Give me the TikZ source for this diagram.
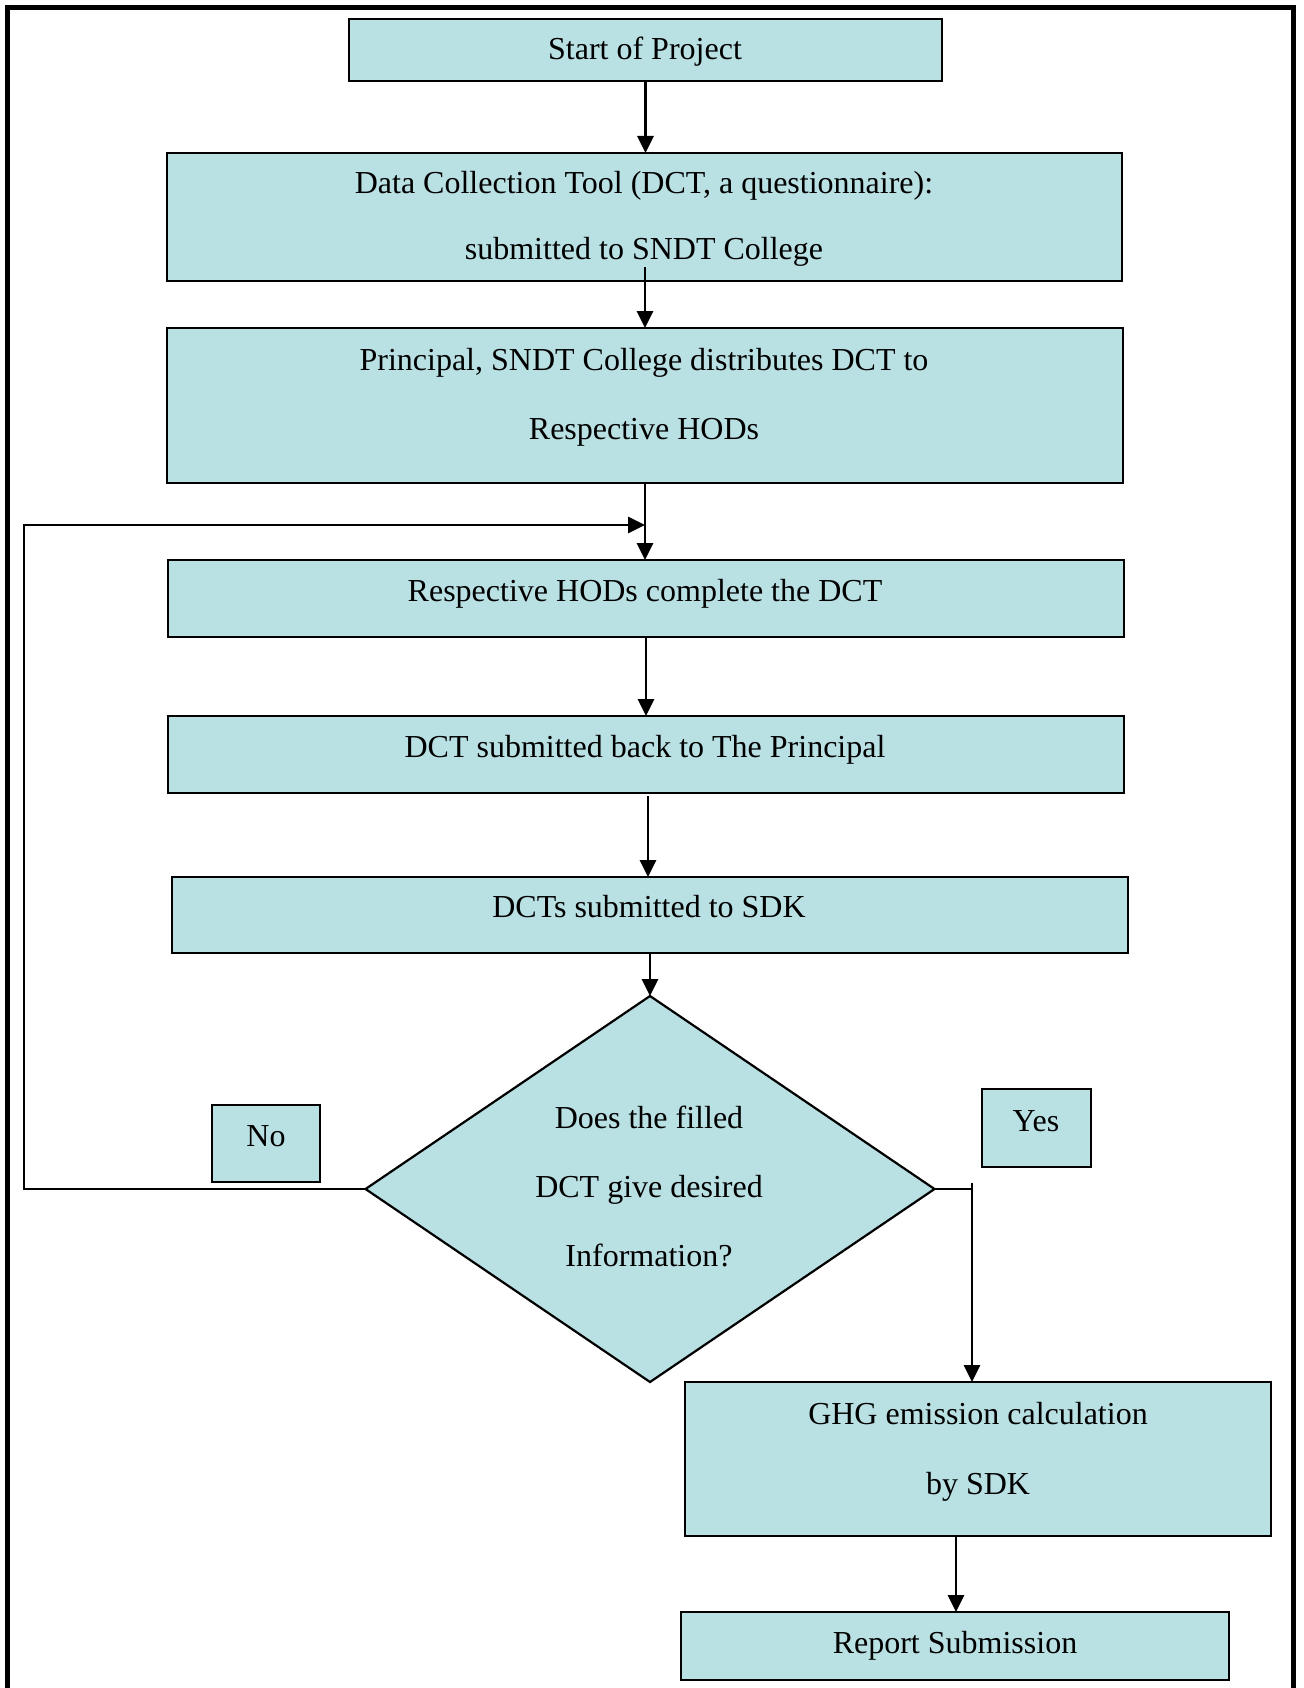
\documentclass[tikz,border=0pt]{standalone}
\usepackage{fontspec}
\setmainfont{Liberation Serif}
\usetikzlibrary{arrows.meta,shapes.geometric}
\definecolor{boxfill}{RGB}{185,224,227}
\begin{document}
\begin{tikzpicture}[x=1pt,y=-1pt,
  box/.style={draw, fill=boxfill, line width=2.2pt, inner sep=0pt, outer sep=0pt, anchor=north west},
  txt/.style={anchor=base, inner sep=0pt, font=\fontsize{32}{38}\selectfont},
  conn/.style={line width=2.8pt},
  arr/.style={conn, -{Triangle[length=17pt,width=16pt]}},
]
\useasboundingbox (0,0) rectangle (1303,1688);
\fill[white] (0,0) rectangle (1303,1688);
% outer frame
\draw[line width=5.5pt, line join=miter] (7.5,1700) -- (7.5,7.5) -- (1293.5,7.5) -- (1293.5,1700);

% boxes
\node[box, minimum width=593pt, minimum height=62pt]  (start) at (349,19) {};
\node[box, minimum width=955pt, minimum height=128pt] (dct)   at (167,153) {};
\node[box, minimum width=956pt, minimum height=155pt] (prin)  at (167,328) {};
\node[box, minimum width=956pt, minimum height=77pt]  (hods)  at (168,560) {};
\node[box, minimum width=956pt, minimum height=77pt]  (back)  at (168,716) {};
\node[box, minimum width=956pt, minimum height=76pt]  (sdk)   at (172,877) {};
\node[draw, fill=boxfill, line width=2.2pt, shape=diamond, inner sep=0pt, outer sep=0pt,
      minimum width=569pt, minimum height=386pt] (dia) at (650,1189) {};
\node[box, minimum width=108pt, minimum height=77pt]  (no)    at (212,1105) {};
\node[box, minimum width=109pt, minimum height=78pt]  (yes)   at (982,1089) {};
\node[box, minimum width=586pt, minimum height=154pt] (ghg)   at (685,1382) {};
\node[box, minimum width=548pt, minimum height=68pt]  (rep)   at (681,1612) {};

% texts
\node[txt] (t1)  at (645,60)  {Start of Project};
\node[txt] (t2a) at (644,194) {Data Collection Tool (DCT, a questionnaire):};
\node[txt] (t2b) at (644,259) {submitted to SNDT College};
\node[txt] (t3a) at (644,370) {Principal, SNDT College distributes DCT to};
\node[txt] (t3b) at (644,439) {Respective HODs};
\node[txt] (t4)  at (645,601) {Respective HODs complete the DCT};
\node[txt] (t5)  at (645,757) {DCT submitted back to The Principal};
\node[txt] (t6)  at (649,917) {DCTs submitted to SDK};
\node[txt] (t7a) at (649,1128) {Does the filled};
\node[txt] (t7b) at (649,1197) {DCT give desired};
\node[txt] (t7c) at (649,1266) {Information?};
\node[txt] (tno) at (266,1146) {No};
\node[txt] (tye) at (1036,1131) {Yes};
\node[txt] (t8a) at (978,1424) {GHG emission calculation};
\node[txt] (t8b) at (978,1494) {by SDK};
\node[txt] (t9)  at (955,1653) {Report Submission};

% connector helper points
\coordinate (a2s) at (645,267);
\coordinate (a5s) at (648,796);
\coordinate (lb) at (24,1189);
\coordinate (lt) at (24,525);
\coordinate (lh) at (645,525);
\coordinate (yc) at (972,1189);
\coordinate (yt) at (972,1183);
\coordinate (a7) at (956,1536);

% connectors
\draw[arr] (start.south) -- (start.south |- dct.north);
\draw[arr] (a2s) -- (a2s |- prin.north);
\draw[arr] (prin.south) -- (prin.south |- hods.north);
\draw[arr] (hods.south) -- (hods.south |- back.north);
\draw[arr] (a5s) -- (a5s |- sdk.north);
\draw[arr] (sdk.south) -- (dia.north);
\draw[arr] (dia.west) -- (lb) -- (lt) -- (lh);
\draw[conn] (dia.east) -- (yc);
\draw[arr] (yt) -- (yt |- ghg.north);
\draw[arr] (a7) -- (a7 |- rep.north);
\end{tikzpicture}
\end{document}
